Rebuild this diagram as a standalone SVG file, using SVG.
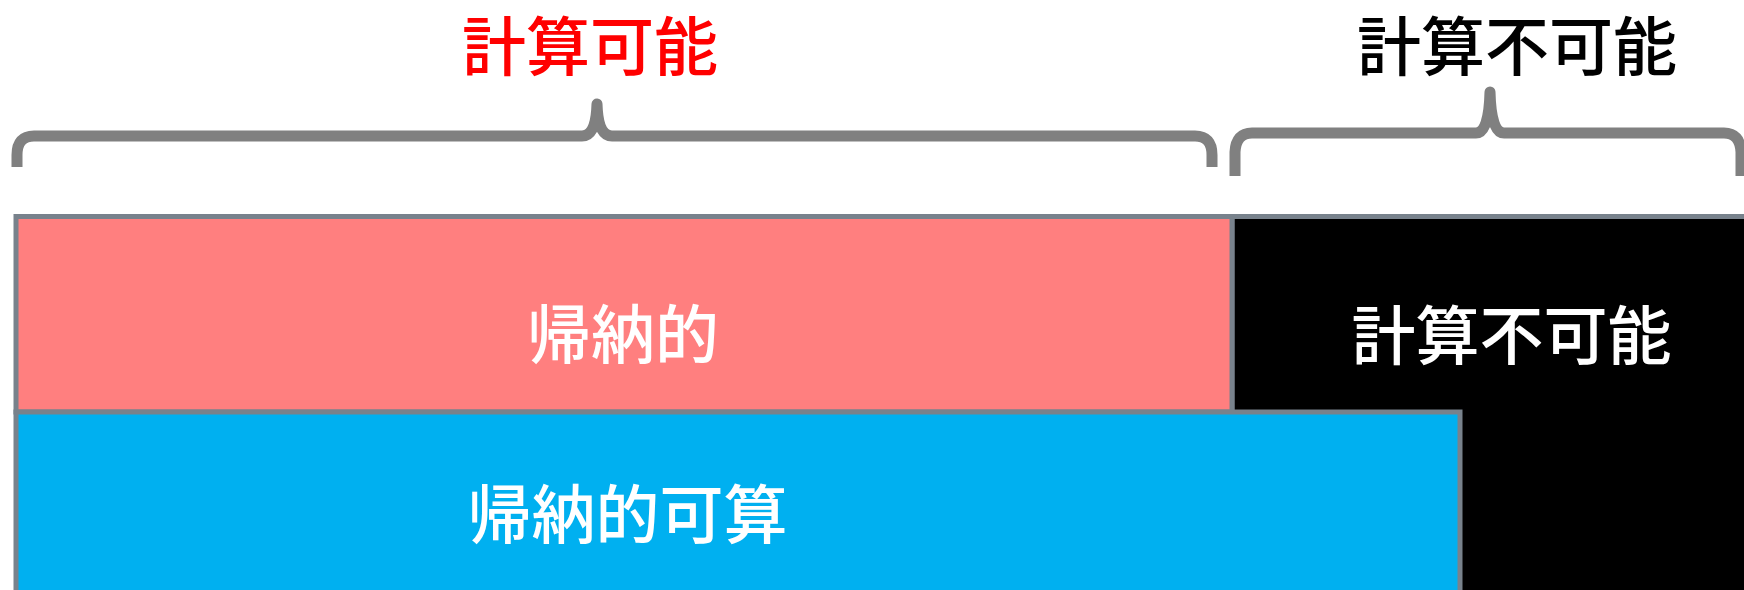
<svg xmlns="http://www.w3.org/2000/svg" width="1744" height="590" viewBox="0 0 1744 590">
<style>
.box{stroke:#78828C;stroke-width:5}
.brace{fill:none;stroke:#808080;stroke-width:11;stroke-linejoin:round}
.t{font-family:"Noto Sans CJK JP","Noto Sans CJK SC",sans-serif;font-size:64px;font-weight:500;text-anchor:middle;dominant-baseline:central}
</style>
<rect width="1744" height="590" fill="#ffffff"/>
<g id="uncomputable">
<rect class="box" x="1232" y="216.5" width="520" height="376" fill="#000000"/>
<text class="t" x="1511.5" y="330.5" fill="#ffffff">計算不可能</text>
</g>
<g id="inductive">
<rect class="box" x="16" y="216.5" width="1216" height="195.5" fill="#FF7F7F"/>
<text class="t" x="623" y="330" fill="#ffffff">帰納的</text>
</g>
<g id="inductive-computable">
<rect class="box" x="16" y="412" width="1444" height="185" fill="#00B0F0"/>
<text class="t" x="627.5" y="509.5" fill="#ffffff">帰納的可算</text>
</g>
<g id="connectors">
<path class="brace" d="M17,167 L17,155 Q17,136 34,136 L582,136 Q596,136 597,104 Q598,136 612,136 L1195,136 Q1212,136 1212,155 L1212,167"/>
<path class="brace" d="M1235,176 L1235,152 Q1236,133 1252,133 L1476,133 Q1489,133 1490,92 Q1491,133 1504,133 L1724,133 Q1740,133 1741,152 L1741,176"/>
</g>
<g id="label-computable">
<text class="t" x="590" y="41.5" fill="#FF0000">計算可能</text>
</g>
<g id="label-uncomputable">
<text class="t" x="1517" y="41.5" fill="#000000">計算不可能</text>
</g>
</svg>
